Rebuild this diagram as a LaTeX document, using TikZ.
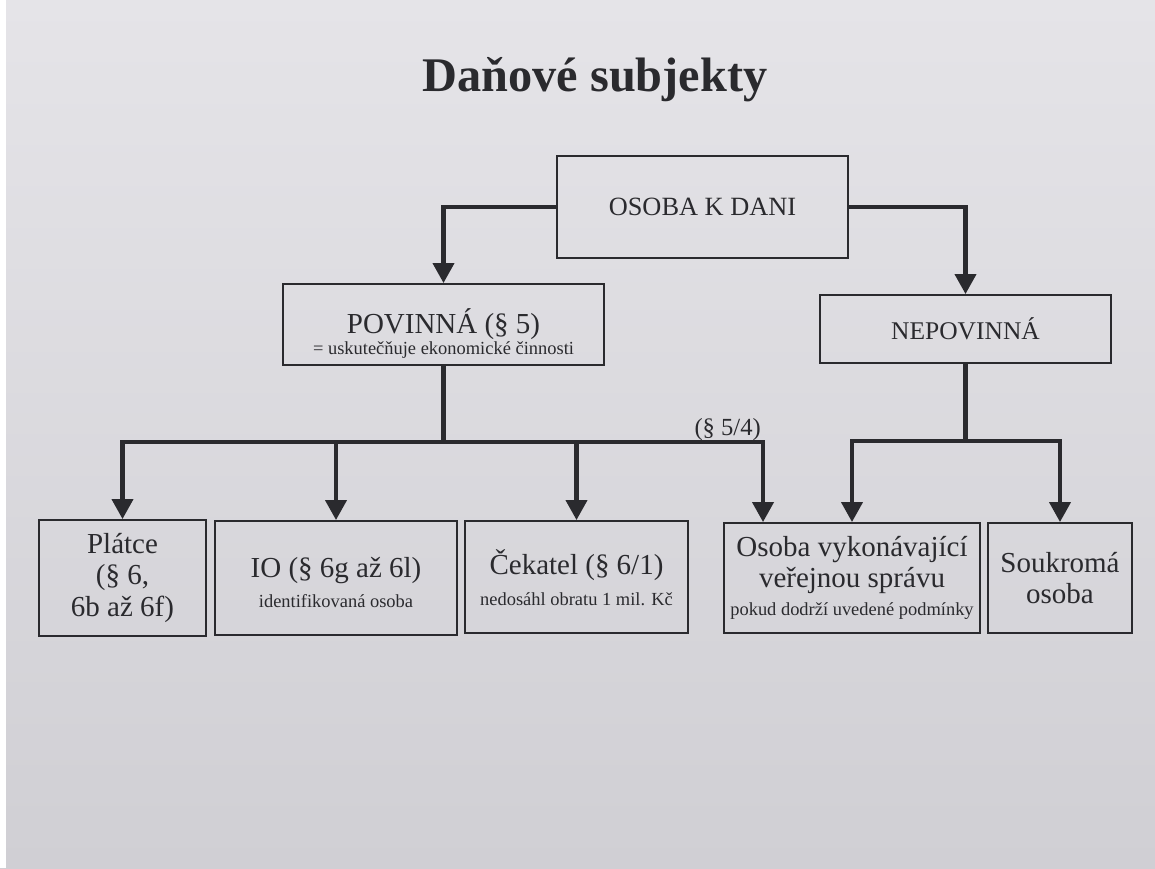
\documentclass[tikz,border=0pt]{standalone}
\usepackage{fontspec}
\setmainfont{Liberation Serif}
\usepackage{tikz}
\usetikzlibrary{arrows.meta}
\usetikzlibrary{positioning}

\definecolor{ink}{RGB}{42,42,46}
\definecolor{papertop}{RGB}{229,228,232}
\definecolor{paperlow}{RGB}{208,207,212}

\newcommand{\popisfont}{\fontsize{16.5}{18}\selectfont}
\newcommand{\poznfont}{\fontsize{10.5}{12}\selectfont}

\tikzset{
	box/.style={draw=ink, line width=1.1pt, text=ink, align=center, inner sep=0pt, font=\popisfont},
	link/.style={draw=ink, line width=2.3pt},
	arr/.style={link, -{Triangle[length=0.4cm,width=0.42cm]}},
}

\begin{document}
\begin{tikzpicture}[x=0.02cm, y=-0.02cm]

	% papir
	\shade[top color=papertop, bottom color=paperlow] (0,0) rectangle (1155,868);
	\fill[white] (0,0) rectangle (6,868);
	\useasboundingbox (0,0) rectangle (1155,868);

	\node[text=ink, font=\bfseries\fontsize{27.5}{30}\selectfont, anchor=base] (nadpis) at (595,92) {Daňové subjekty};

	% horni uroven
	\node[box, font=\fontsize{15}{17}\selectfont, minimum width=5.82cm, minimum height=2.04cm] (osoba) at (702.5,207) {OSOBA K DANI};
	\node[box, minimum width=6.42cm, minimum height=1.62cm] (povinna) at (443.5,324.5)
		{\rule{0pt}{24pt}POVINNÁ (§ 5)\\[-6pt]{\poznfont = uskutečňuje ekonomické činnosti}};
	\node[box, font=\fontsize{14.5}{17}\selectfont, minimum width=5.82cm, minimum height=1.36cm] (nepovinna) at (965.5,329) {NEPOVINNÁ};

	% spodni uroven
	\node[box, minimum width=3.34cm, minimum height=2.32cm] (platce) at (122.5,578) {Plátce\\(§ 6,\\6b až 6f)};
	\node[box, minimum width=4.84cm, minimum height=2.28cm] (io) at (336,578) {\rule{0pt}{17pt}IO (§ 6g až 6l)\\[-1pt]{\poznfont identifikovaná osoba}};
	\node[box, minimum width=4.46cm, minimum height=2.24cm] (cekatel) at (576.5,577) {\rule{0pt}{15pt}Čekatel (§ 6/1)\\{\poznfont nedosáhl obratu 1 mil. Kč}};
	\node[box, minimum width=5.12cm, minimum height=2.2cm] (verejna) at (852,578)
		{Osoba vykonávající\\[-0.5pt]veřejnou správu\\[-2pt]{\poznfont pokud dodrží uvedené podmínky}};
	\node[box, minimum width=2.88cm, minimum height=2.2cm] (soukroma) at (1060,578) {Soukromá\\osoba};

	\coordinate (jp) at (povinna.south |- 0,442);
	\coordinate (jn) at (nepovinna.south |- 0,441);

	\draw[arr] (osoba.west) -| (povinna.north);
	\draw[arr] (osoba.east) -| (nepovinna.north);

	\draw[link] (povinna.south) -- (jp);
	\draw[arr] (jp) -| (platce.north);
	\draw[arr] (jp) -| (io.north);
	\draw[arr] (jp) -| (cekatel.north);
	\draw[arr] (jp) -| ([xshift=-1.78cm]verejna.north);
	\node[text=ink, font=\fontsize{14}{16}\selectfont, anchor=base east] (odst) at (767,435) {(§ 5/4)};

	\draw[link] (nepovinna.south) -- (jn);
	\draw[arr] (jn) -| (verejna.north);
	\draw[arr] (jn) -| (soukroma.north);

\end{tikzpicture}
\end{document}
